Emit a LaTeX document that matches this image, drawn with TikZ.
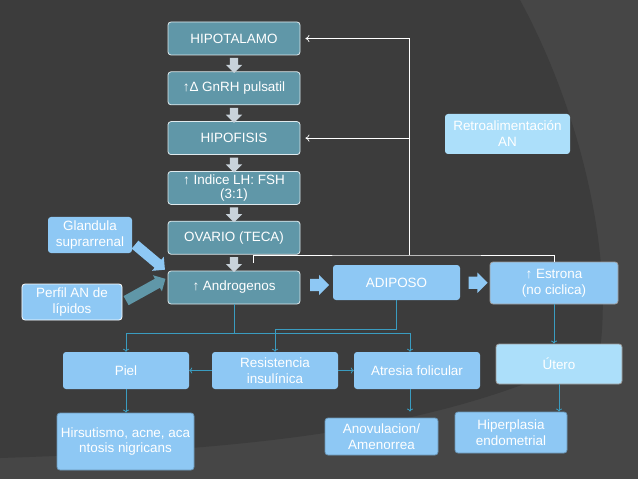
\documentclass[tikz,border=0pt]{standalone}
\usepackage{fontspec}
\setmainfont{Liberation Sans}
\usetikzlibrary{positioning,calc,shapes.arrows,arrows.meta,backgrounds}
\definecolor{SlideDark}{RGB}{60,60,60}
\definecolor{SlideLight}{RGB}{70,70,70}
\definecolor{TealBox}{RGB}{96,151,168}
\definecolor{SkyBox}{RGB}{142,200,244}
\definecolor{PaleBox}{RGB}{172,223,250}
\definecolor{LinkBlue}{RGB}{58,156,192}
\definecolor{ArrowGray}{RGB}{200,210,218}

\begin{document}
\begin{tikzpicture}[
  x=1bp, y=-1bp,
  font=\fontsize{13.5}{16}\selectfont,
  tealbox/.style={rectangle, draw=white!80!TealBox, fill=TealBox, line width=0.8bp, rounded corners=3bp, minimum width=132bp, minimum height=33bp, align=center, text=white, inner sep=1bp},
  skybox/.style={rectangle, fill=SkyBox, rounded corners=3bp, minimum width=126bp, minimum height=37bp, align=center, text=white, inner sep=1bp},
  palebox/.style={skybox, fill=PaleBox, draw=gray!80, line width=0.8bp},
  bevelbox/.style={skybox, draw=SkyBox!75!black, line width=0.8bp},
  downarr/.style={single arrow, fill=ArrowGray, draw=none, shape border rotate=270, inner sep=4bp, minimum width=16bp, minimum height=15bp, single arrow head extend=4bp},
  blockarr/.style={single arrow, fill=SkyBox, draw=none, inner sep=6bp, minimum width=20bp, minimum height=19bp, single arrow head extend=4bp},
  link/.style={-{To[length=3bp,width=6bp]}, draw=LinkBlue, line width=0.8bp},
  feedback/.style={-{To[length=4bp,width=7bp]}, draw=white, line width=0.7bp}
]

  % Background
  \fill[SlideLight] (0,0) rectangle (638,479);
  \fill[SlideDark] (0,0) -- (520,0) .. controls (585,120) and (612,260) .. (600,350)
    .. controls (450,430) and (250,450) .. (0,458) -- cycle;
  \useasboundingbox (0,0) rectangle (638,479);

  % Main column
  \node[tealbox] (hipot) at (234,38.5) {HIPOTALAMO};
  \node[tealbox, below=16bp of hipot] (gnrh) {↑Δ GnRH pulsatil};
  \node[tealbox, below=16bp of gnrh] (hipof) {HIPOFISIS};
  \node[tealbox, below=16bp of hipof] (indice) {↑ Indice LH: FSH\\[-2bp](3:1)};
  \node[tealbox, below=16bp of indice] (ovario) {OVARIO (TECA)};
  \node[tealbox, below=16bp of ovario] (andro) {↑ Androgenos};

  \foreach \a/\b in {hipot/gnrh, gnrh/hipof, hipof/indice, indice/ovario, ovario/andro}
    \node[downarr] at ($(\a.south)!0.5!(\b.north)$) {};

  % Right row
  \node[skybox, minimum width=127bp, minimum height=35bp] (adiposo) at (396.5,282.5) {ADIPOSO};
  \node[skybox, draw=gray!75, line width=0.8bp, minimum width=128bp, minimum height=42bp] (estrona) at (554,283) {↑ Estrona\\(no ciclica)};
  \node[blockarr] at ($(andro.east)!0.5!(adiposo.west)$) {};
  \node[blockarr] at ($(adiposo.east)!0.5!(estrona.west)$) {};

  % Side inputs
  \node[skybox, minimum width=84bp, minimum height=36bp] (glandula) at (90,235) {Glandula\\suprarrenal};
  \node[skybox, draw=white, line width=0.8bp, minimum width=100bp, minimum height=36bp] (perfil) at (72,302) {Perfil AN de\\lípidos};
  \node[blockarr, inner sep=5bp, minimum height=39bp, minimum width=18bp, rotate=-40] at (148,255.5) {};
  \node[blockarr, fill=TealBox, inner sep=5bp, minimum height=45bp, minimum width=18bp, rotate=29] at (143.5,291) {};

  % Feedback
  \node[palebox, draw=none, minimum width=125bp, minimum height=40bp] (retro) at (507.5,134) {Retroalimentación\\AN};
  \coordinate (fbjoin) at (409,255);
  \coordinate (fbend) at (253,263);
  \draw[draw=white, line width=0.7bp] (estrona.north) |- (fbjoin) -| (fbend);
  \draw[feedback, shorten >=5bp] (fbjoin) |- (hipot.east);
  \draw[feedback, shorten >=5bp] (fbjoin) |- (hipof.east);

  % Second row
  \node[skybox] (piel) at (126,370.5) {Piel};
  \node[skybox] (resist) at (275,370.5) {Resistencia\\insulínica};
  \node[skybox] (atresia) at (417,370.5) {Atresia folicular};
  \node[palebox, minimum height=40bp] (utero) at (559,364) {Útero};

  % Third row
  \node[bevelbox, minimum width=137bp, minimum height=57bp] (hirsut) at (125.5,441.5) {Hirsutismo, acne, aca\\ntosis nigricans};
  \node[bevelbox, minimum width=113bp] (anov) at (381.5,436.5) {Anovulacion/\\Amenorrea};
  \node[bevelbox, minimum width=112bp, minimum height=41bp] (hiper) at (511,432.5) {Hiperplasia\\endometrial};

  % Links
  \coordinate (split) at (andro.south |- 0,333);
  \draw[link] (andro.south) -- (split) -| (piel.north);
  \draw[link] (split) -| ($(atresia.north)+(-7,0)$);
  \draw[link] (adiposo.south) -- ++(0,29) -| (resist.north);
  \draw[link] (resist.west) -- (piel.east);
  \draw[link] (resist.east) -- (atresia.west);
  \draw[link] (estrona.south) -- (estrona.south |- utero.north);
  \draw[link] (utero.south) -- (utero.south |- hiper.north);
  \draw[link] (piel.south) -- (piel.south |- hirsut.north);
  \draw[link, shorten >=6bp] ($(atresia.south)+(-7,0)$) -- ($(atresia.south |- anov.north)+(-7,0)$);
\end{tikzpicture}
\end{document}
